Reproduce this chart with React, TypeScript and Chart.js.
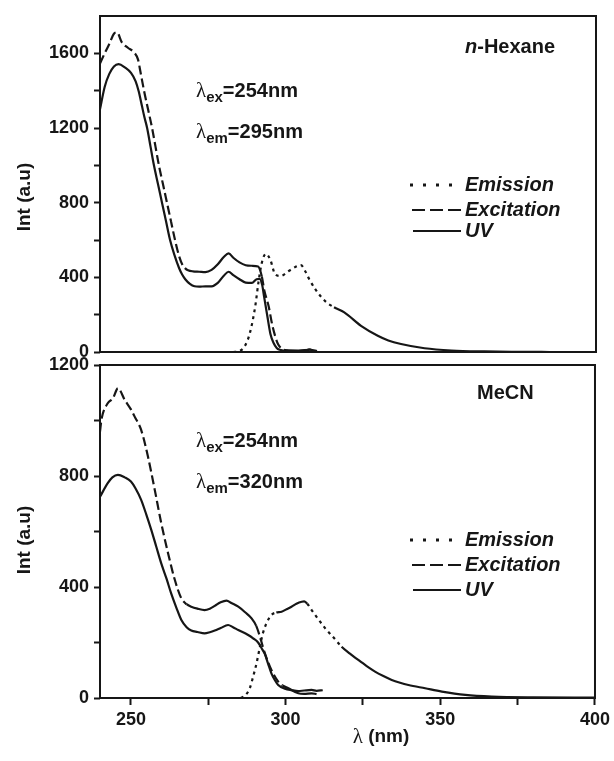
import React, { useEffect, useRef } from 'react';
import { Chart, registerables } from 'chart.js';

Chart.register(...registerables);

// ---------- data: n-Hexane panel ----------
const hexUvX = [240, 241.5, 243, 244.5, 246, 248, 250, 251.5, 252.5, 253.5, 254.3, 255.2, 256.3, 257.4, 258.7, 260, 261.3, 262.6, 264, 265.5, 266.5, 267.5, 269, 270.5, 272, 274, 276, 278, 280, 281.5, 283, 285, 287, 289, 290.5, 291.5, 292.3, 293, 294, 295, 296, 297, 298, 300, 303, 306, 307.5, 309];
const hexUvY = [1300, 1420, 1490, 1530, 1542, 1525, 1495, 1450, 1395, 1320, 1260, 1200, 1100, 1000, 900, 800, 700, 600, 520, 450, 415, 390, 365, 352, 350, 352, 352, 370, 410, 430, 412, 390, 372, 370, 390, 392, 360, 290, 190, 95, 48, 22, 12, 6, 4, 6, 14, 3];

const hexExX = [240, 241.5, 243, 244.5, 245.5, 247, 249, 251, 252.3, 253, 254.2, 255.5, 256.8, 257.9, 259, 260.3, 261.6, 262.9, 264.2, 265.4, 266.5, 267.5, 268.4, 270, 272, 274, 276, 278, 280, 281.5, 283, 285, 287, 289, 291, 292.2, 293, 294.4, 295.5, 296.5, 297.5, 298.5, 300, 304, 308, 310];
const hexExY = [1545, 1600, 1650, 1705, 1712, 1660, 1630, 1605, 1565, 1505, 1400, 1300, 1200, 1100, 1000, 900, 800, 700, 600, 520, 470, 448, 438, 432, 430, 428, 440, 470, 510, 528, 505, 480, 465, 462, 458, 405, 330, 245, 150, 85, 40, 20, 10, 8, 12, 5];

const hexEmX = [283, 285, 286.8, 288.4, 290.1, 291.1, 292.2, 293.5, 294.9, 296.5, 298.2, 300.9, 303.6, 304.8, 306.3, 307.5, 309.5, 312.8, 315.5, 318.8, 324.2, 329.6, 333, 337.1, 344.7, 353.4, 364, 375, 385];
const hexEmY = [0, 5, 34, 105, 247, 372, 478, 526, 496, 416, 407, 434, 460, 465, 430, 390, 335, 270, 240, 212, 140, 87, 62, 43, 20, 8, 3, 1, 0];

// ---------- data: MeCN panel ----------
const mecnUvX = [240, 242.5, 244, 245.8, 248, 250, 251.5, 253.3, 255, 256.6, 258.2, 259.8, 261.5, 263, 264.7, 266.3, 268, 269.5, 271.5, 273.8, 275.5, 277.1, 279, 281.4, 283, 284.7, 287.9, 289.5, 291.1, 292.2, 293.3, 294.3, 295.4, 296.5, 297.6, 299.8, 302, 304.1, 306, 308.4, 310, 312];
const mecnUvY = [725, 774, 795, 804, 795, 780, 755, 714, 660, 605, 545, 485, 430, 377, 325, 281, 255, 243, 238, 233, 237, 243, 252, 263, 255, 245, 227, 215, 200, 180, 158, 125, 89, 65, 47, 33, 28, 25, 27, 29, 26, 28];

const mecnExX = [240, 240.5, 242.5, 244.2, 245.8, 248, 250, 251.2, 253.3, 255.5, 257.7, 259.8, 262, 264.2, 266.3, 268, 269.5, 271.5, 273.8, 275.5, 277.1, 279, 280.9, 282.5, 284.7, 287, 289, 290.5, 291.7, 292.5, 293.3, 295.4, 297.6, 299, 300.9, 304.1, 306, 308.4, 310];
const mecnExY = [960, 1005, 1062, 1080, 1116, 1074, 1040, 1014, 966, 870, 750, 630, 522, 425, 359, 338, 329, 322, 317, 322, 332, 345, 351, 342, 329, 308, 287, 260, 221, 190, 161, 101, 59, 45, 35, 17, 15, 17, 14];

const mecnEmX = [285.5, 287, 288.4, 289.5, 290.6, 291.7, 292.5, 293.8, 295.4, 297, 298.7, 300.3, 301.9, 303.5, 305.2, 306, 307, 308.4, 310.5, 312.8, 315.5, 318.1, 320.8, 323.5, 326.2, 328.9, 331.6, 334.3, 337, 339.7, 345.1, 350.5, 358.1, 366.7, 380, 400];
const mecnEmY = [0, 10, 35, 77, 125, 185, 227, 269, 299, 308, 311, 320, 329, 340, 347, 348, 340, 317, 285, 251, 218, 185, 160, 137, 115, 95, 79, 65, 55, 47, 35, 23, 11, 5, 2, 1];

// ---------- axes ----------
const xTickValues = [250, 275, 300, 325, 350, 375, 400];
const hexYTickValues = [0, 200, 400, 600, 800, 1000, 1200, 1400, 1600];
const mecnYTickValues = [0, 200, 400, 600, 800, 1000, 1200];

const legendLabels = ['Emission', 'Excitation', 'UV'];
const yAxisTitle = 'Int (a.u)';
const xAxisTitleUnit = ' (nm)';

// ---------- style ----------
const W = 614;
const H = 761;
const FONT = '"Liberation Sans", Arial, Helvetica, sans-serif';
const SERIF = '"Liberation Serif", "DejaVu Serif", serif';
const INK = '#161616';

function pts(xs: number[], ys: number[]) {
  return xs.map((x, i) => ({ x, y: ys[i] }));
}

function inRanges(v: number, ranges: number[][]) {
  return ranges.some(([a, b]) => v >= a && v < b);
}

const decorPlugin = {
  id: 'panelDecor',
  afterDraw(chart: any, _args: any, opts: any) {
    const { ctx, chartArea: a } = chart;
    ctx.save();
    ctx.strokeStyle = INK;
    ctx.fillStyle = INK;
    ctx.lineWidth = 2;
    ctx.setLineDash([]);
    ctx.strokeRect(a.left, a.top, a.right - a.left, a.bottom - a.top);

    // y-axis title
    ctx.save();
    ctx.translate(25, opts.yTitleY);
    ctx.rotate(-Math.PI / 2);
    ctx.textAlign = 'center';
    ctx.textBaseline = 'middle';
    ctx.font = `bold 19px ${FONT}`;
    ctx.fillText(yAxisTitle, 0, 0);
    ctx.restore();

    // x-axis title
    if (opts.xTitle) {
      ctx.textBaseline = 'middle';
      ctx.textAlign = 'left';
      ctx.font = `21px ${SERIF}`;
      const lw = ctx.measureText('λ').width;
      ctx.font = `bold 19px ${FONT}`;
      const rw = ctx.measureText(xAxisTitleUnit).width;
      let x0 = opts.xTitle.x - (lw + rw) / 2;
      ctx.font = `21px ${SERIF}`;
      ctx.fillText('λ', x0, opts.xTitle.y);
      ctx.font = `bold 19px ${FONT}`;
      ctx.fillText(xAxisTitleUnit, x0 + lw, opts.xTitle.y);
    }

    // solvent label
    ctx.textBaseline = 'alphabetic';
    ctx.textAlign = 'left';
    let sx = opts.solventX;
    for (const part of opts.solvent) {
      ctx.font = `${part.italic ? 'italic ' : ''}bold 20px ${FONT}`;
      ctx.fillText(part.text, sx, opts.solventY);
      sx += ctx.measureText(part.text).width;
    }

    // lambda annotations
    const drawLambda = (x: number, base: number, sub: string, rest: string) => {
      ctx.font = `21px ${SERIF}`;
      ctx.fillText('λ', x, base);
      let cx = x + ctx.measureText('λ').width;
      ctx.font = `bold 15px ${FONT}`;
      ctx.fillText(sub, cx, base + 5);
      cx += ctx.measureText(sub).width;
      ctx.font = `bold 20px ${FONT}`;
      ctx.fillText(rest, cx, base);
    };
    drawLambda(opts.lambdaX, opts.exY, 'ex', opts.exText);
    drawLambda(opts.lambdaX, opts.emY, 'em', opts.emText);

    // legend
    const rows = [
      { dash: [3, 10], width: 3, x0: 410, x1: 456 },
      { dash: [13, 5], width: 2.2, x0: 412, x1: 463 },
      { dash: [], width: 2.2, x0: 413, x1: 461 },
    ];
    rows.forEach((r, i) => {
      const y = opts.legendY[i];
      ctx.setLineDash(r.dash);
      ctx.lineWidth = r.width;
      ctx.beginPath();
      ctx.moveTo(r.x0, y);
      ctx.lineTo(r.x1, y);
      ctx.stroke();
      ctx.setLineDash([]);
      ctx.font = `italic bold 20px ${FONT}`;
      ctx.textBaseline = 'middle';
      ctx.fillText(legendLabels[i], 465, y);
    });
    ctx.restore();
  },
};

function makeConfig(panel: any): any {
  const isTop = panel.isTop;
  const common = {
    borderColor: INK,
    borderWidth: 2.2,
    pointRadius: 0,
    cubicInterpolationMode: 'monotone',
    borderDash: [],
  };
  return {
    type: 'line',
    data: {
      datasets: [
        {
          ...common,
          label: 'Emission',
          data: pts(panel.emX, panel.emY),
          segment: {
            borderDash: (c: any) => {
              const dx = Math.abs(c.p1.x - c.p0.x) || 1;
              const dy = Math.abs(c.p1.y - c.p0.y);
              return dy / dx > 0.9 || c.p0.parsed.x < panel.emDotUntil ? [3, 4] : undefined;
            },
          },
        },
        {
          ...common,
          label: 'Excitation',
          data: pts(panel.exX, panel.exY),
          segment: {
            borderDash: (c: any) => (inRanges(c.p0.parsed.x, panel.exDashRanges) ? [9, 4] : undefined),
          },
        },
        {
          ...common,
          label: 'UV',
          data: pts(panel.uvX, panel.uvY),
        },
      ],
    },
    options: {
      animation: false,
      responsive: false,
      devicePixelRatio: 1,
      events: [],
      layout: { padding: { top: panel.areaTop, right: W - 596, left: 0, bottom: 0 } },
      plugins: {
        legend: { display: false },
        tooltip: { enabled: false },
        panelDecor: panel.decor,
      },
      scales: {
        x: {
          type: 'linear',
          min: 240,
          max: 400,
          afterBuildTicks: (s: any) => {
            s.ticks = xTickValues.map((v) => ({ value: v }));
          },
          afterFit: (s: any) => {
            s.height = H - panel.areaBottom;
          },
          grid: {
            drawOnChartArea: false,
            drawTicks: !isTop,
            display: !isTop,
            tickLength: 7,
            tickWidth: 2,
            tickColor: INK,
          },
          border: { display: false },
          ticks: {
            display: !isTop,
            color: INK,
            padding: 4,
            maxRotation: 0,
            autoSkip: false,
            font: { family: FONT, size: 18, weight: 'bold' },
            callback: (v: number) => (v % 50 === 0 ? String(v) : ''),
          },
        },
        y: {
          type: 'linear',
          min: 0,
          max: panel.yMax,
          afterBuildTicks: (s: any) => {
            s.ticks = panel.yTicks.map((v: number) => ({ value: v }));
          },
          afterFit: (s: any) => {
            s.width = 100;
          },
          grid: {
            drawOnChartArea: false,
            drawTicks: true,
            tickLength: 6,
            tickWidth: 2,
            tickColor: INK,
          },
          border: { display: false },
          ticks: {
            color: INK,
            padding: 5,
            autoSkip: false,
            font: { family: FONT, size: 18, weight: 'bold' },
            callback: (v: number) => (v % 400 === 0 ? String(v) : ''),
          },
        },
      },
    },
    plugins: [decorPlugin],
  };
}

const topPanel = {
  isTop: true,
  areaTop: 16,
  areaBottom: 352,
  yMax: 1800,
  yTicks: hexYTickValues,
  uvX: hexUvX,
  uvY: hexUvY,
  exX: hexExX,
  exY: hexExY,
  emX: hexEmX,
  emY: hexEmY,
  emDotUntil: 313,
  exDashRanges: [
    [240, 268.5],
    [291.5, 299],
  ],
  decor: {
    solvent: [
      { text: 'n', italic: true },
      { text: '-Hexane', italic: false },
    ],
    solventX: 465,
    solventY: 53,
    lambdaX: 196,
    exY: 97,
    emY: 138,
    exText: '=254nm',
    emText: '=295nm',
    legendY: [185, 210, 231],
    yTitleY: 197,
    xTitle: null,
  },
};

const bottomPanel = {
  isTop: false,
  areaTop: 365,
  areaBottom: 698,
  yMax: 1200,
  yTicks: mecnYTickValues,
  uvX: mecnUvX,
  uvY: mecnUvY,
  exX: mecnExX,
  exY: mecnExY,
  emX: mecnEmX,
  emY: mecnEmY,
  emDotUntil: 296,
  exDashRanges: [
    [240, 267],
    [290, 299],
  ],
  decor: {
    solvent: [{ text: 'MeCN', italic: false }],
    solventX: 477,
    solventY: 399,
    lambdaX: 196,
    exY: 447,
    emY: 488,
    exText: '=254nm',
    emText: '=320nm',
    legendY: [540, 565, 590],
    yTitleY: 540,
    xTitle: { x: 381, y: 737 },
  },
};

export default function App() {
  const topRef = useRef<HTMLCanvasElement | null>(null);
  const botRef = useRef<HTMLCanvasElement | null>(null);

  useEffect(() => {
    const c1 = new Chart(topRef.current as HTMLCanvasElement, makeConfig(topPanel));
    const c2 = new Chart(botRef.current as HTMLCanvasElement, makeConfig(bottomPanel));
    return () => {
      c1.destroy();
      c2.destroy();
    };
  }, []);

  const canvasStyle: React.CSSProperties = {
    position: 'absolute',
    left: 0,
    top: 0,
    width: W,
    height: H,
  };

  return (
    <div style={{ position: 'absolute', left: 0, top: 0, width: W, height: H, background: '#fff' }}>
      <canvas ref={topRef} width={W} height={H} style={canvasStyle} />
      <canvas ref={botRef} width={W} height={H} style={canvasStyle} />
    </div>
  );
}
